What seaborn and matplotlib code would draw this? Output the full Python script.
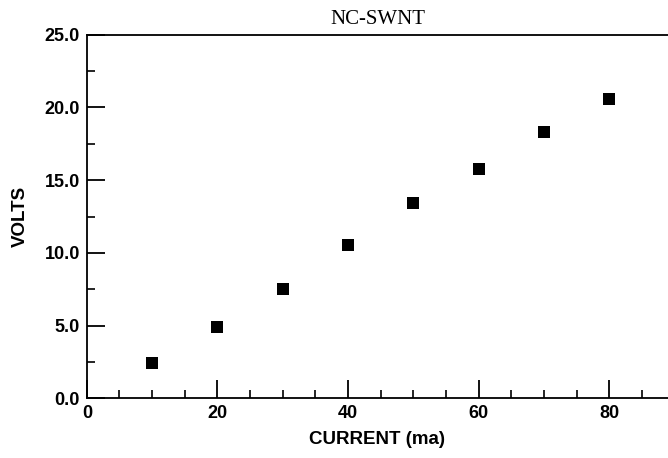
import numpy as np
import pandas as pd
import seaborn as sns
import matplotlib.pyplot as plt
from matplotlib.ticker import MultipleLocator, FormatStrFormatter

# data
current_ma = [10, 20, 30, 40, 50, 60, 70, 80]
volts = [2.47, 4.94, 7.5, 10.53, 13.46, 15.8, 18.31, 20.6]

df = pd.DataFrame({"current": current_ma, "volts": volts})

sns.set_style("ticks")
plt.rcParams['font.family'] = ['Liberation Sans', 'DejaVu Sans']
plt.rcParams['text.color'] = 'black'
plt.rcParams['axes.labelcolor'] = 'black'
plt.rcParams['xtick.color'] = 'black'
plt.rcParams['ytick.color'] = 'black'

fig = plt.figure(figsize=(6.68, 4.58), dpi=100)
ax = fig.add_axes([0.130, 0.130, 0.870, 0.7942])

sns.scatterplot(x="current", y="volts", data=df, marker="s", s=80,
                color="black", edgecolor="black", linewidth=0, ax=ax)

ax.set_xlim(0, 89)
ax.set_ylim(0, 25)
ax.xaxis.set_major_locator(MultipleLocator(20))
ax.xaxis.set_minor_locator(MultipleLocator(5))
ax.yaxis.set_major_locator(MultipleLocator(5))
ax.yaxis.set_minor_locator(MultipleLocator(2.5))
ax.yaxis.set_major_formatter(FormatStrFormatter('%.1f'))

ax.tick_params(which="major", direction="in", length=13, width=1.3,
               labelsize=13, pad=5)
ax.tick_params(which="minor", direction="in", length=6, width=1.2)
for lab in ax.get_xticklabels() + ax.get_yticklabels():
    lab.set_fontweight("bold")

ax.spines["right"].set_visible(False)
for s in ["left", "bottom", "top"]:
    ax.spines[s].set_linewidth(1.3)
    ax.spines[s].set_color("black")

ax.set_xlabel("CURRENT (ma)", fontsize=13.5, fontweight="bold", labelpad=6)
ax.set_ylabel("VOLTS", fontsize=13.5, fontweight="bold", labelpad=11)
ax.set_title("NC-SWNT", fontsize=15, fontfamily="Liberation Serif", pad=8)

fig.savefig("out.png", dpi=100)
